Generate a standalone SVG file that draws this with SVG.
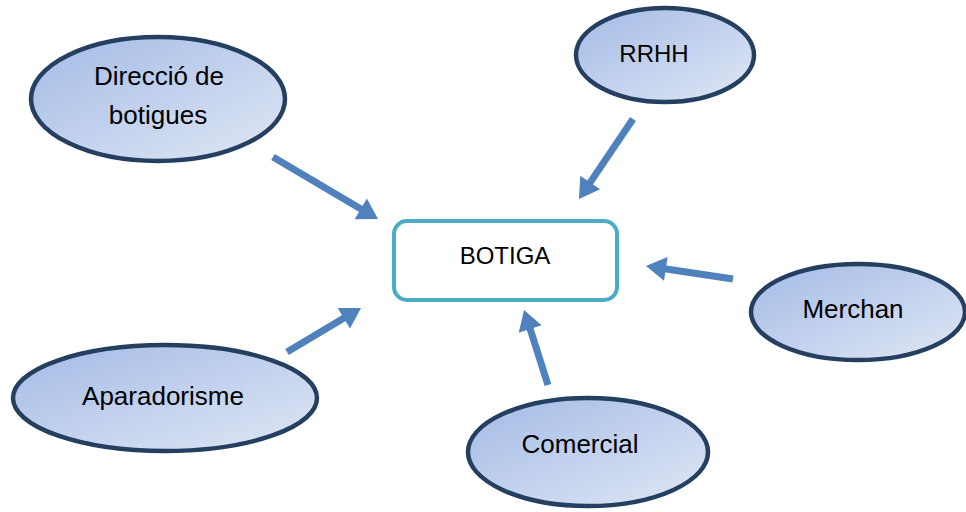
<svg xmlns="http://www.w3.org/2000/svg" width="966" height="512" viewBox="0 0 966 512">
<style>
.node ellipse{fill:url(#g);stroke:#243F60;stroke-width:4.5}
text{font-family:"Liberation Sans",Arial,sans-serif;font-size:26px;fill:#000;text-anchor:middle}
.arr{stroke:#4F81BD;stroke-width:7;fill:none;marker-end:url(#ah)}
</style>
<defs>
<linearGradient id="g" x1="0" y1="0" x2="1" y2="1">
<stop offset="0" stop-color="#A3BBE6"/>
<stop offset="1" stop-color="#E0E7F4"/>
</linearGradient>
<marker id="ah" markerUnits="userSpaceOnUse" markerWidth="22" markerHeight="24" viewBox="0 0 20 24" refX="8" refY="12" orient="auto">
<path d="M0,0 L20,12 L0,24 z" fill="#4F81BD"/>
</marker>
</defs>
<rect width="966" height="512" fill="#fff"/>
<g id="botiga">
<rect x="394" y="221" width="223" height="79" rx="13" fill="#fff" stroke="#4BACC6" stroke-width="4"/>
<text x="505" y="264" style="font-size:24px">BOTIGA</text>
</g>
<g id="direccio" class="node">
<ellipse cx="158" cy="99" rx="127" ry="62"/>
<text x="159" y="85">Direcció de</text>
<text x="158" y="124">botigues</text>
</g>
<g id="rrhh" class="node">
<ellipse cx="665" cy="55" rx="89" ry="47"/>
<text x="654" y="62" style="font-size:24px">RRHH</text>
</g>
<g id="merchan" class="node">
<ellipse cx="858" cy="312" rx="107" ry="48"/>
<text x="853" y="318">Merchan</text>
</g>
<g id="aparadorisme" class="node">
<ellipse cx="165" cy="398" rx="152" ry="53"/>
<text x="163" y="405">Aparadorisme</text>
</g>
<g id="comercial" class="node">
<ellipse cx="588" cy="452" rx="120" ry="54"/>
<text x="580" y="453">Comercial</text>
</g>
<g id="connectors">
<line class="arr" x1="273" y1="157" x2="367.7" y2="212.9"/>
<line class="arr" x1="287" y1="352" x2="350.7" y2="314.1"/>
<line class="arr" x1="633" y1="119" x2="585.7" y2="189.1"/>
<line class="arr" x1="733" y1="279" x2="657.9" y2="267.8"/>
<line class="arr" x1="548" y1="385" x2="527.7" y2="321.4"/>
</g>
</svg>
